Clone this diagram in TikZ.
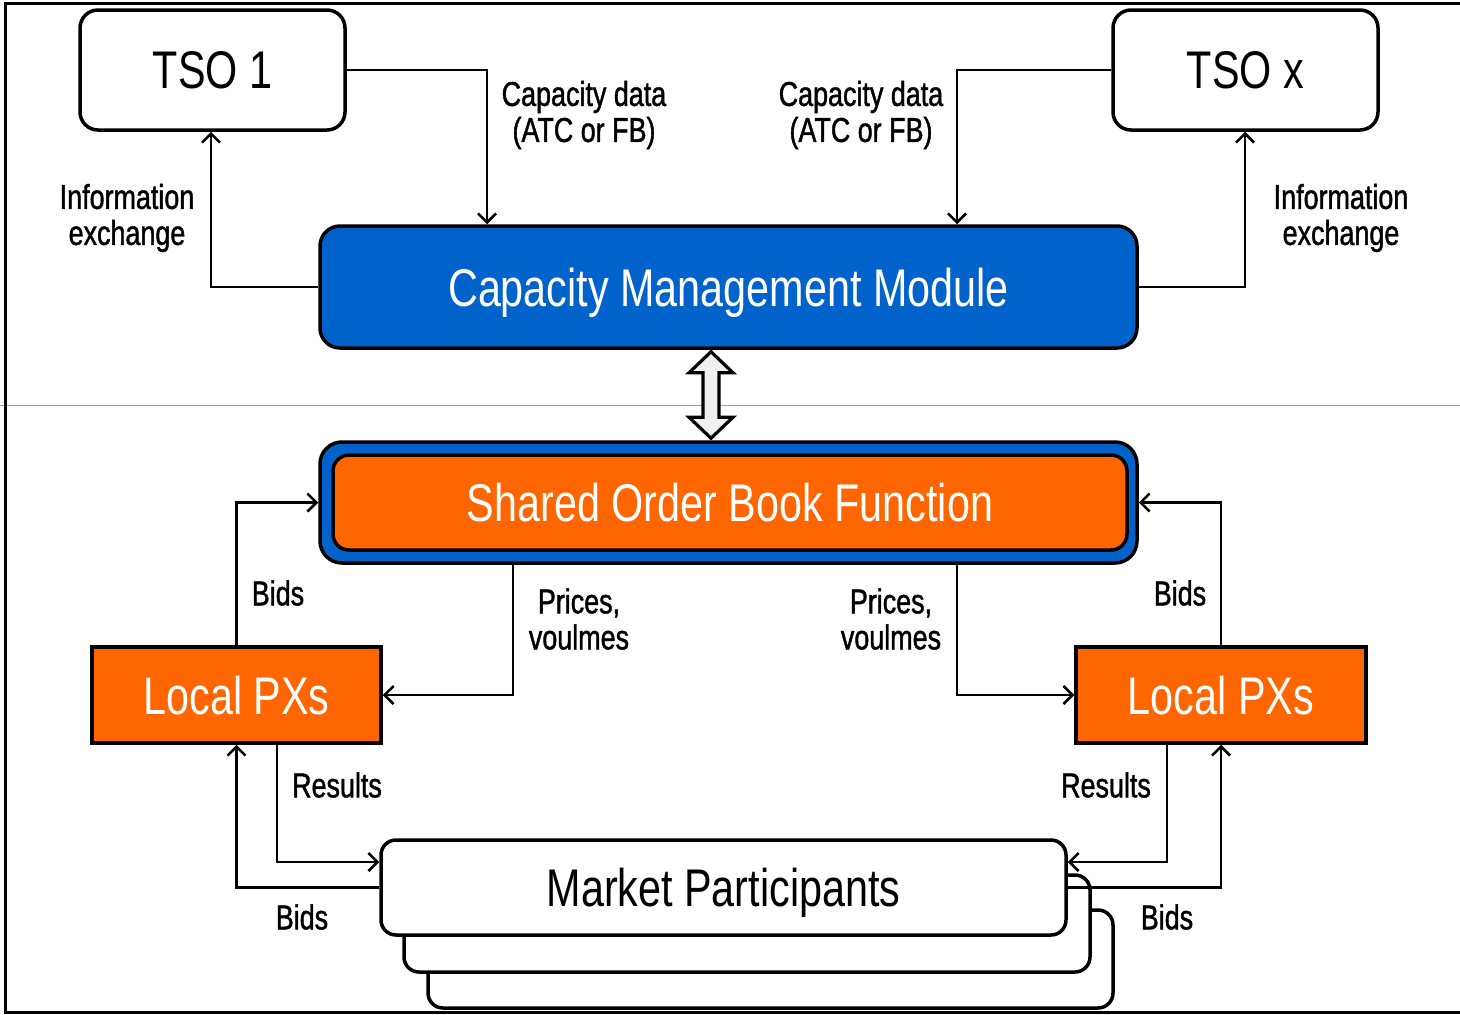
\documentclass[tikz,border=0pt]{standalone}
\usepackage{fontspec}
\setmainfont[FakeStretch=0.78]{Liberation Sans}
\newfontfamily\lblfont[FakeStretch=0.78,FakeBold=1.2]{Liberation Sans}
\usetikzlibrary{arrows.meta}
\definecolor{cmmblue}{HTML}{0063CC}
\definecolor{pxorange}{HTML}{FF6600}
\definecolor{lav}{HTML}{9A9ACC}
\begin{document}
\begin{tikzpicture}[x=1pt,y=-1pt,
  big/.style={font=\fontsize{53}{60}\selectfont, text depth=0pt},
  lbl/.style={font=\lblfont\fontsize{34.5}{36}\selectfont, align=center, inner sep=0pt, text=black},
  whitebox/.style={draw, line width=3.5pt, fill=white, rounded corners=18pt, inner sep=0pt, big},
  bluebox/.style={draw, line width=3.5pt, fill=cmmblue, rounded corners=20pt, inner sep=0pt, big, text=white},
  orangebox/.style={draw, line width=3.5pt, fill=pxorange, inner sep=0pt, big, text=white},
  conn/.style={line width=2.6pt, -{Straight Barb[length=9pt,width=18pt,line width=2.6pt]}},
  dblarrow/.style={draw, line width=3.2pt, fill=black!6, line join=miter}
]
\useasboundingbox (0,0) rectangle (1460,1015);
\fill[white] (0,0) rectangle (1460,1015);
% thin page line
\draw[lav, line width=1pt] (0,405) -- (1460,405);
% frame
\draw[line width=3pt] (1460,3) -- (5,3) -- (5,1012) -- (1460,1012);

% nodes
\node[whitebox, minimum width=265, minimum height=120] (tso1) at (212.5,70) {TSO 1};
\node[whitebox, minimum width=265, minimum height=120] (tsox) at (1245.5,70) {TSO x};
\node[bluebox, minimum width=817, minimum height=122] (cmm) at (728.5,287) {Capacity Management Module};
\node[draw, line width=3.5pt, fill=cmmblue, rounded corners=22pt, minimum width=817, minimum height=121, inner sep=0pt] (sob) at (728.5,502.5) {};
\node[draw, line width=3.5pt, fill=pxorange, rounded corners=16pt, minimum width=794, minimum height=95, inner sep=0pt, big, text=white] (sobin) at (730,502.5) {Shared Order Book Function};
\node[orangebox, minimum width=289, minimum height=96] (lpl) at (236.5,695) {Local PXs};
\node[orangebox, minimum width=290, minimum height=96] (lpr) at (1221,695) {Local PXs};
\node[whitebox, rounded corners=15pt, minimum width=685, minimum height=98] (mp3) at (770.5,959) {};
\node[whitebox, rounded corners=15pt, minimum width=686, minimum height=97] (mp2) at (747,923.5) {};
\node[whitebox, rounded corners=15pt, minimum width=685, minimum height=95] (mp1) at (723.5,887.5) {Market Participants};

% double arrow between CMM and SOB (yshift is in canvas direction: positive = up)
\coordinate (dt) at ([yshift=-2]cmm.south -| 711,0);
\coordinate (db) at ([yshift=2]sob.north -| 711,0);
\path[dblarrow] (dt) -- ++(22,21) -- ++(-14,0) -- ([xshift=8,yshift=21]db) -- ++(14,0) -- (db)
  -- ++(-22,-21) -- ++(14,0) -- ([xshift=-8,yshift=-21]dt) -- ++(-14,0) -- cycle;

% connectors
\draw[conn] (tso1.east) -| ([xshift=-241.5]cmm.north);
\draw[conn] (tsox.west) -| ([xshift=228.5]cmm.north);
\draw[conn] (cmm.west) -| ([xshift=-1.5]tso1.south);
\draw[conn] (cmm.east) -| ([xshift=-0.5]tsox.south);
\draw[conn] (lpl.north) |- (sob.west);
\draw[conn] (lpr.north) |- (sob.east);
\draw[conn] ([xshift=-215.5]sob.south) |- (lpl.east);
\draw[conn] ([xshift=228.5]sob.south) |- (lpr.west);
\draw[conn] ([xshift=40.5]lpl.south) |- ([yshift=25.5]mp1.west);
\draw[conn] (mp1.west) -| (lpl.south);
\draw[conn] ([xshift=-54]lpr.south) |- ([yshift=25.5]mp1.east);
\draw[conn] (mp1.east) -| (lpr.south);

% labels
\node[lbl] (l1) at (584,115) {Capacity data\\(ATC or FB)};
\node[lbl] (l2) at (861,115) {Capacity data\\(ATC or FB)};
\node[lbl] (l3) at (127,218) {Information\\exchange};
\node[lbl] (l4) at (1341,218) {Information\\exchange};
\node[lbl] (l5) at (278,593) {Bids};
\node[lbl] (l6) at (1180,593) {Bids};
\node[lbl] (l7) at (579,619) {Prices,\\voulmes};
\node[lbl] (l8) at (891,619) {Prices,\\voulmes};
\node[lbl] (l9) at (337,785) {Results};
\node[lbl] (l10) at (1106,785) {Results};
\node[lbl] (l11) at (302,917) {Bids};
\node[lbl] (l12) at (1167,917) {Bids};
\end{tikzpicture}
\end{document}
